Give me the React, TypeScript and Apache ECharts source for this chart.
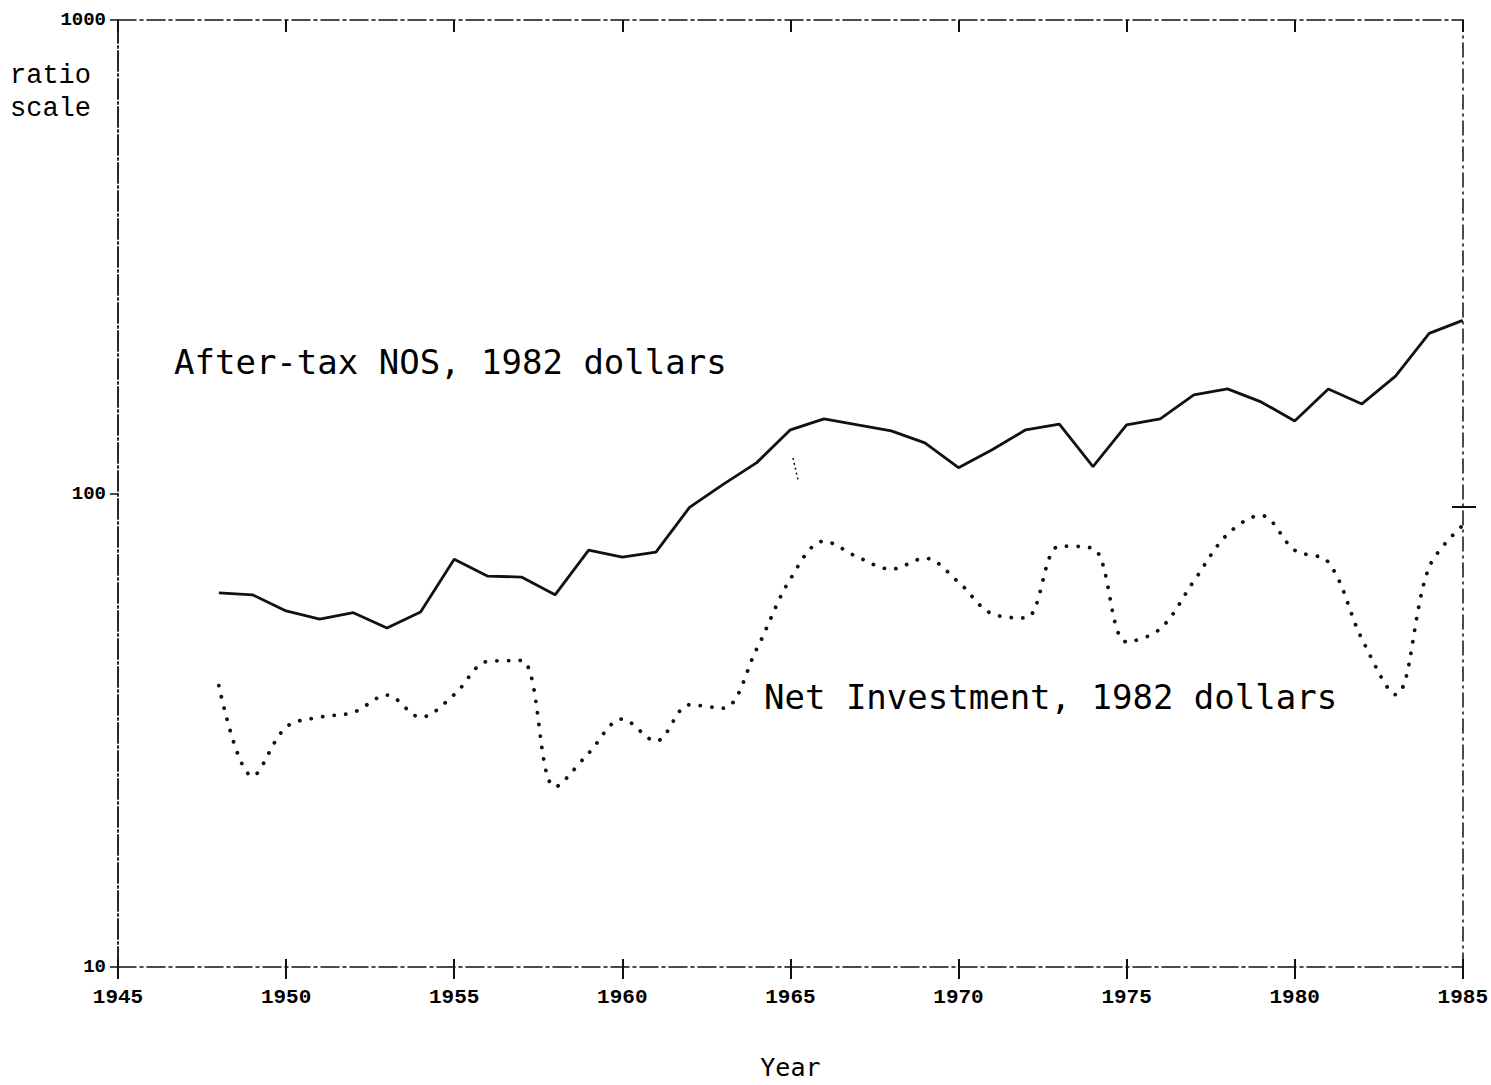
import React, { useEffect, useRef } from "react";
import * as echarts from "echarts";

const years = [
  1948, 1949, 1950, 1951, 1952, 1953, 1954, 1955, 1956, 1957,
  1958, 1959, 1960, 1961, 1962, 1963, 1964, 1965, 1966, 1967,
  1968, 1969, 1970, 1971, 1972, 1973, 1974, 1975, 1976, 1977,
  1978, 1979, 1980, 1981, 1982, 1983, 1984, 1985,
];

const afterTaxNOS = [
  61.7, 61.1, 56.5, 54.3, 56.0, 52.0, 56.2, 72.6, 66.9, 66.6,
  61.1, 75.9, 73.4, 75.2, 93.5, 104.5, 116.2, 136.3, 143.8, 139.6,
  135.6, 127.9, 113.4, 123.7, 136.3, 140.2, 114.0, 139.6, 143.8, 161.5,
  166.3, 156.1, 142.3, 166.3, 154.6, 176.9, 217.8, 232.1,
];

const netInvestment = [
  39.3, 25.3, 32.1, 33.7, 34.5, 37.5, 33.7, 37.6, 44.2, 44.4,
  24.0, 28.3, 33.4, 30.0, 35.8, 35.2, 47.0, 66.0, 79.3, 73.4,
  69.2, 73.0, 65.0, 55.7, 54.6, 77.4, 76.6, 48.6, 51.8, 65.3,
  82.0, 89.9, 75.9, 71.6, 49.3, 37.6, 69.9, 85.7,
];

const xMin = 1945;
const xMax = 1985;
const xStep = 5;
const yMin = 10;
const yMax = 1000;

const nosLabel = "After-tax NOS, 1982 dollars";
const invLabel = "Net Investment, 1982 dollars";
const xTitle = "Year";

const INK = "#111";
const tickFont = {
  fontFamily: "Liberation Mono",
  fontWeight: "bold" as const,
  fontSize: 21,
  color: "#000",
};
const frameDash = [18, 4, 3, 4];

export default function App() {
  const ref = useRef<HTMLDivElement>(null);

  useEffect(() => {
    document.body.style.margin = "0";
    if (!ref.current) return;
    const chart = echarts.init(ref.current, undefined, { renderer: "svg" });

    const nosData = years.map((y, i) => [y, afterTaxNOS[i]]);
    const invData = years.map((y, i) => [y, netInvestment[i]]);

    chart.setOption({
      animation: false,
      backgroundColor: "#fff",
      grid: { left: 118, right: 28, top: 20, bottom: 113, containLabel: false },
      xAxis: [
        {
          type: "value",
          position: "bottom",
          min: xMin,
          max: xMax,
          interval: xStep,
          name: xTitle,
          nameLocation: "middle",
          nameGap: 88,
          nameTextStyle: {
            fontFamily: "DejaVu Sans Mono",
            fontSize: 25,
            color: "#000",
          },
          axisLine: { show: true, lineStyle: { color: INK, width: 1.5, type: frameDash } },
          axisTick: { show: true, inside: false, length: 12, lineStyle: { color: INK, width: 2 } },
          axisLabel: { ...tickFont, margin: 20, formatter: (v: number) => String(v) },
          splitLine: { show: false },
        },
        {
          type: "value",
          position: "top",
          min: xMin,
          max: xMax,
          interval: xStep,
          axisLine: { show: true, lineStyle: { color: INK, width: 1.5, type: frameDash } },
          axisTick: { show: true, inside: true, length: 12, lineStyle: { color: INK, width: 2 } },
          axisLabel: { show: false },
          splitLine: { show: false },
        },
        {
          type: "value",
          position: "bottom",
          min: xMin,
          max: xMax,
          interval: xStep,
          axisLine: { show: false },
          axisTick: { show: true, inside: true, length: 8, lineStyle: { color: INK, width: 2 } },
          axisLabel: { show: false },
          splitLine: { show: false },
        },
      ],
      yAxis: [
        {
          type: "log",
          logBase: 10,
          position: "left",
          min: yMin,
          max: yMax,
          axisLine: { show: true, lineStyle: { color: INK, width: 1.8, type: [20, 3, 2, 3] } },
          axisTick: { show: true, inside: false, length: 8, lineStyle: { color: INK, width: 1.5 } },
          axisLabel: { ...tickFont, fontSize: 19, margin: 12, formatter: (v: number) => String(v) },
          splitLine: { show: false },
        },
        {
          type: "log",
          logBase: 10,
          position: "right",
          min: yMin,
          max: yMax,
          axisLine: { show: true, lineStyle: { color: INK, width: 1.5, type: [14, 5, 2, 5] } },
          axisTick: { show: false },
          axisLabel: { show: false },
          splitLine: { show: false },
        },
      ],
      series: [
        {
          name: nosLabel,
          type: "line",
          xAxisIndex: 0,
          yAxisIndex: 0,
          data: nosData,
          showSymbol: false,
          symbol: "none",
          lineStyle: { color: INK, width: 2.8 },
          z: 3,
        },
        {
          name: invLabel,
          type: "line",
          xAxisIndex: 0,
          yAxisIndex: 0,
          data: invData,
          showSymbol: false,
          symbol: "none",
          smooth: 0.35,
          lineStyle: { color: INK, width: 3.8, type: [0.1, 11.5], cap: "round" },
          z: 3,
        },
      ],
      graphic: [
        {
          type: "text",
          x: 10,
          y: 76,
          style: {
            text: "ratio",
            fontFamily: "Liberation Mono",
            fontSize: 27,
            fill: "#000",
            textAlign: "left",
            textVerticalAlign: "middle",
          },
        },
        {
          type: "text",
          x: 10,
          y: 109,
          style: {
            text: "scale",
            fontFamily: "Liberation Mono",
            fontSize: 27,
            fill: "#000",
            textAlign: "left",
            textVerticalAlign: "middle",
          },
        },
        {
          type: "text",
          x: 174,
          y: 362,
          style: {
            text: nosLabel,
            fontFamily: "DejaVu Sans Mono",
            fontSize: 34,
            fill: "#000",
            textAlign: "left",
            textVerticalAlign: "middle",
          },
        },
        {
          type: "text",
          x: 764,
          y: 697,
          style: {
            text: invLabel,
            fontFamily: "DejaVu Sans Mono",
            fontSize: 34,
            fill: "#000",
            textAlign: "left",
            textVerticalAlign: "middle",
          },
        },
        {
          type: "line",
          shape: { x1: 1452, y1: 507, x2: 1476, y2: 507 },
          style: { stroke: INK, lineWidth: 2 },
        },
        {
          type: "line",
          shape: { x1: 793, y1: 458, x2: 798, y2: 480 },
          style: { stroke: INK, lineWidth: 1.5, lineDash: [2, 3] },
        },
      ],
    });

    return () => chart.dispose();
  }, []);

  return <div ref={ref} style={{ width: 1491, height: 1085 }} />;
}
